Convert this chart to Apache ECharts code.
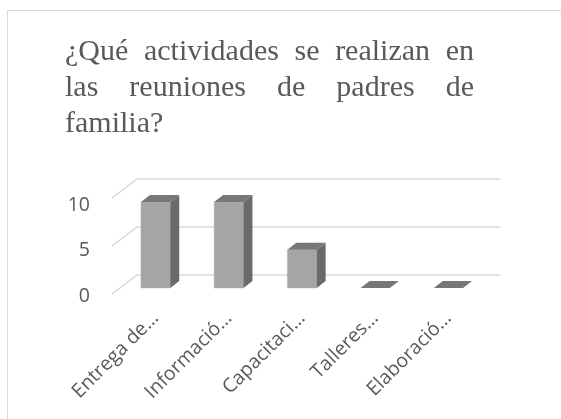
<!DOCTYPE html>
<html>
<head>
<meta charset="utf-8">
<script src="https://cdn.jsdelivr.net/npm/echarts@6/dist/echarts.min.js"></script>
<style>
html,body{margin:0;padding:0;background:#fff;}
#chart{width:561px;height:419px;}
</style>
</head>
<body>
<div id="chart"></div>
<script>
// ---- data ----
const categories = ['Entrega de…', 'Informació…', 'Capacitaci…', 'Talleres…', 'Elaboració…'];
const values = [9, 9, 4, 0, 0];
const yTicks = [0, 5, 10];
const titleLines = ['¿Qué actividades se realizan en', 'las reuniones de padres de', 'familia?'];

// ---- layout / style ----
const TEXT = '#595959';
const GRID = '#d9d9d9';
const titleFont = '30px "Liberation Serif", "Times New Roman", serif';
const titleLeft = 65, titleRight = 474;
const titleMid = [52, 88, 124];

const chart = echarts.init(document.getElementById('chart'), null, {renderer: 'canvas'});

// justified title words
const mctx = document.createElement('canvas').getContext('2d');
mctx.font = titleFont;
const titleGraphics = [];
titleLines.forEach((line, li) => {
  const words = line.split(' ');
  const justify = li < titleLines.length - 1 && words.length > 1;
  const widths = words.map(w => mctx.measureText(w).width);
  const total = widths.reduce((a, b) => a + b, 0);
  const gap = justify ? (titleRight - titleLeft - total) / (words.length - 1) : mctx.measureText(' ').width;
  let x = titleLeft;
  words.forEach((w, wi) => {
    titleGraphics.push({
      type: 'text', x: x, y: titleMid[li],
      style: {text: w, font: titleFont, fill: TEXT, verticalAlign: 'middle', align: 'left'}
    });
    x += widths[wi] + gap;
  });
});

const option = {
  animation: false,
  backgroundColor: '#fff',
  graphic: [
    {type: 'rect', shape: {x: 7.5, y: 10.5, width: 600, height: 500}, style: {fill: 'none', stroke: GRID, lineWidth: 1}, z: -1}
  ].concat(titleGraphics),
  grid: [
    {left: 137, right: 61, top: 179, bottom: 144},   // back wall
    {left: 119, right: 76, top: 192.4, bottom: 131}, // bar front plane
    {left: 112, width: 1, top: 205, bottom: 123}     // value labels
  ],
  xAxis: [
    {gridIndex: 0, type: 'value', min: 0, max: 1, show: false},
    {gridIndex: 1, type: 'category', data: categories,
      axisLine: {show: false}, axisTick: {show: false},
      axisLabel: {rotate: 45, interval: 0, margin: 27, color: TEXT, fontSize: 19.5, fontFamily: '"Open Sans", sans-serif'}},
    {gridIndex: 2, type: 'value', show: false}
  ],
  yAxis: [
    {gridIndex: 0, type: 'value', min: 0, max: 10, interval: 5,
      axisLabel: {show: false}, axisLine: {show: false}, axisTick: {show: false},
      splitLine: {show: true, lineStyle: {color: GRID, width: 1.5}}},
    {gridIndex: 1, type: 'value', min: 0, max: 10, interval: 5, show: false},
    {gridIndex: 2, type: 'value', min: 0, max: 10, interval: 5,
      axisLine: {show: false}, axisTick: {show: false}, splitLine: {show: false},
      axisLabel: {margin: 22, color: TEXT, fontSize: 19.5, fontFamily: '"Open Sans", sans-serif'}}
  ],
  series: [
    {
      type: 'custom', xAxisIndex: 0, yAxisIndex: 0, silent: true,
      data: yTicks.map(v => [0, v]),
      renderItem: function (params, api) {
        const p = api.coord([0, api.value(1)]);
        return {type: 'line', shape: {x1: p[0], y1: p[1], x2: p[0] - 25, y2: p[1] + 19},
          style: {stroke: GRID, lineWidth: 1.5}};
      }
    },
    {
      type: 'custom', xAxisIndex: 1, yAxisIndex: 1, silent: true,
      data: values.map((v, i) => [i, v]),
      renderItem: function (params, api) {
        const i = api.value(0), v = api.value(1);
        const base = api.coord([i, 0]);
        const top = api.coord([i, v]);
        const w = api.size([1, 0])[0] * 0.4;
        const x0 = base[0] - w / 2, x1 = base[0] + w / 2;
        const yb = base[1], yt = top[1];
        const dx = 9, dy = 7;
        const children = [];
        if (yb - yt > 0.5) {
          children.push({type: 'rect', shape: {x: x0, y: yt, width: w, height: yb - yt},
            style: {fill: '#a5a5a5', stroke: '#b4b4b4', lineWidth: 0.5}});
          children.push({type: 'polygon', shape: {points: [[x1, yt], [x1 + dx, yt - dy], [x1 + dx, yb - dy], [x1, yb]]},
            style: {fill: '#6a6a6a'}});
        }
        children.push({type: 'polygon', shape: {points: [[x0, yt], [x0 + dx, yt - dy], [x1 + dx, yt - dy], [x1, yt]]},
          style: {fill: '#777777'}});
        return {type: 'group', children: children};
      }
    }
  ]
};
chart.setOption(option);
</script>
</body>
</html>
